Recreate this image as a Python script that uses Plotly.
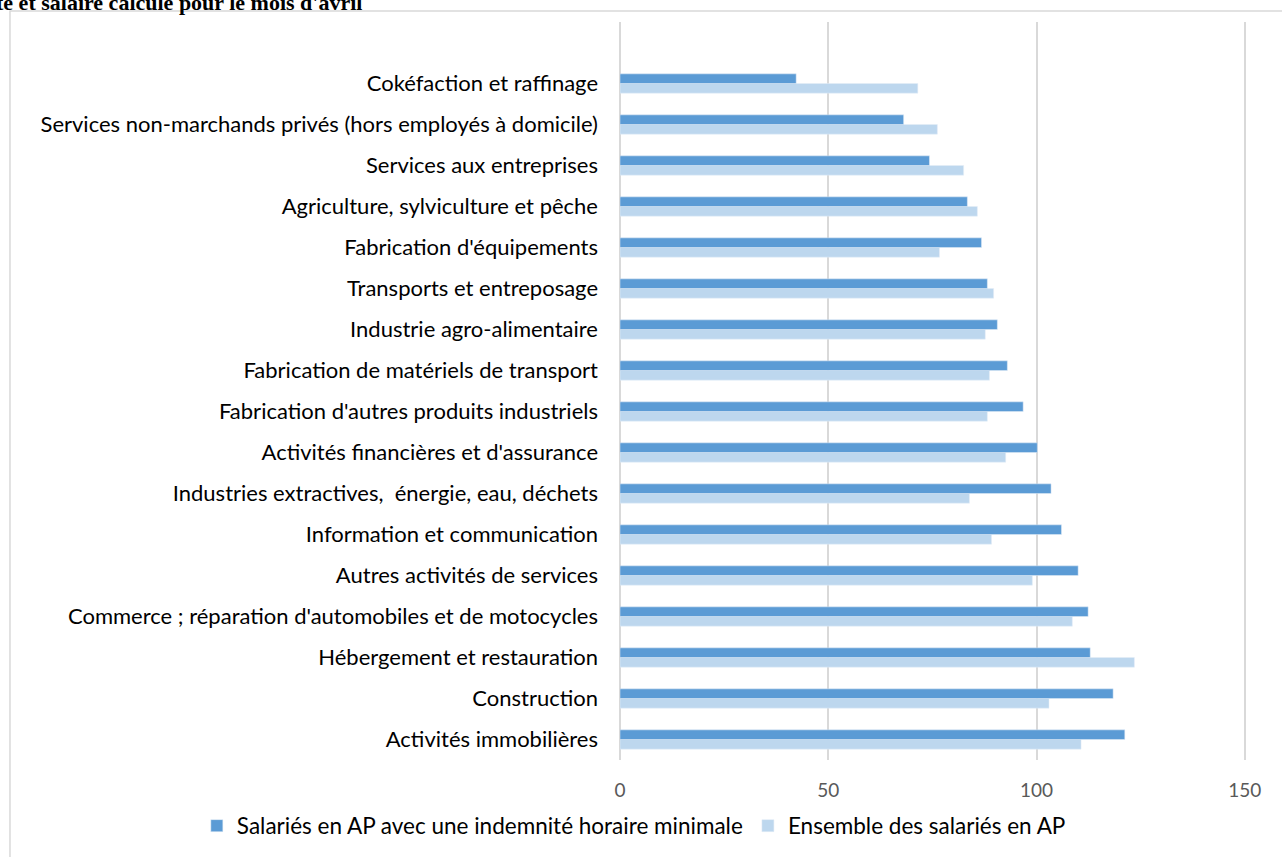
import plotly.graph_objects as go

# categories listed bottom -> top (as drawn on the y axis)
sectors = [
    "Activités immobilières",
    "Construction",
    "Hébergement et restauration",
    "Commerce ; réparation d'automobiles et de motocycles",
    "Autres activités de services",
    "Information et communication",
    "Industries extractives,  énergie, eau, déchets",
    "Activités financières et d'assurance",
    "Fabrication d'autres produits industriels",
    "Fabrication de matériels de transport",
    "Industrie agro-alimentaire",
    "Transports et entreposage",
    "Fabrication d'équipements",
    "Agriculture, sylviculture et pêche",
    "Services aux entreprises",
    "Services non-marchands privés (hors employés à domicile)",
    "Cokéfaction et raffinage",
]
indemnite_min = [121.2, 118.4, 112.9, 112.4, 110.0, 106.0, 103.5, 100.2, 96.8, 93.0,
                 90.6, 88.2, 86.8, 83.4, 74.3, 68.1, 42.3]
ensemble = [110.7, 103.0, 123.5, 108.6, 99.0, 89.2, 83.9, 92.6, 88.2, 88.7,
            87.7, 89.7, 76.7, 85.8, 82.5, 76.2, 71.5]
x_ticks = [0, 50, 100, 150]

DARK = "#5B9BD5"
LIGHT = "#BDD7EE"
GRID = "#D9D9D9"
FONT = "Lato, Calibri, sans-serif"

W, H = 1282, 857
L, R, T, B = 619.5, 36, 22, 97
PW, PH = W - L - R, H - T - B


def px_x(p):
    return (p - L) / PW


def px_y(p):
    return (H - B - p) / PH


fig = go.Figure()
fig.add_trace(go.Bar(y=sectors, x=ensemble, orientation="h", name="Ensemble des salariés en AP",
                     marker_color=LIGHT, hoverinfo="x+y"))
fig.add_trace(go.Bar(y=sectors, x=indemnite_min, orientation="h",
                     name="Salariés en AP avec une indemnité horaire minimale",
                     marker_color=DARK, hoverinfo="x+y"))

fig.update_xaxes(range=[0, 150.3], tickvals=x_ticks, showgrid=True, gridcolor=GRID, gridwidth=1.5,
                 zeroline=True, zerolinecolor=GRID, zerolinewidth=1.5, showline=False,
                 tickfont=dict(size=19, color="#595959"), ticklabelstandoff=17, fixedrange=True)
fig.update_yaxes(categoryorder="array", categoryarray=sectors, range=[-0.5, len(sectors) + 0.5],
                 showgrid=False, tickfont=dict(size=22, color="#000000"), ticklabelstandoff=21,
                 fixedrange=True)

# outer chart border (partly cut by the page)
fig.add_shape(type="rect", xref="paper", yref="paper",
              x0=px_x(9), x1=px_x(1300), y0=px_y(11), y1=px_y(880),
              line=dict(color=GRID, width=1.5), fillcolor="rgba(0,0,0,0)", layer="below")

# cut-off title above the chart
fig.add_annotation(text="<b>indemnité et salaire calculé pour le mois d'avril</b>",
                   xref="paper", yref="paper", x=px_x(363), y=px_y(17),
                   xanchor="right", yanchor="bottom", showarrow=False,
                   font=dict(family="Liberation Serif, Times New Roman, serif", size=22, color="#000000"))

fig.update_layout(
    width=W, height=H, barmode="group", bargap=0.53, bargroupgap=0,
    paper_bgcolor="white", plot_bgcolor="white",
    font=dict(family=FONT, color="#000000"),
    margin=dict(l=L, r=R, t=T, b=B, pad=0, autoexpand=False),
    legend=dict(orientation="h", traceorder="reversed", xref="paper", yref="paper",
                x=px_x(196), y=px_y(826), xanchor="left", yanchor="middle",
                font=dict(size=22.5, color="#000000"), itemwidth=30),
    showlegend=True,
)

fig.write_html("out.html", config={"displayModeBar": False},
               post_script="document.body.style.margin='0';")
